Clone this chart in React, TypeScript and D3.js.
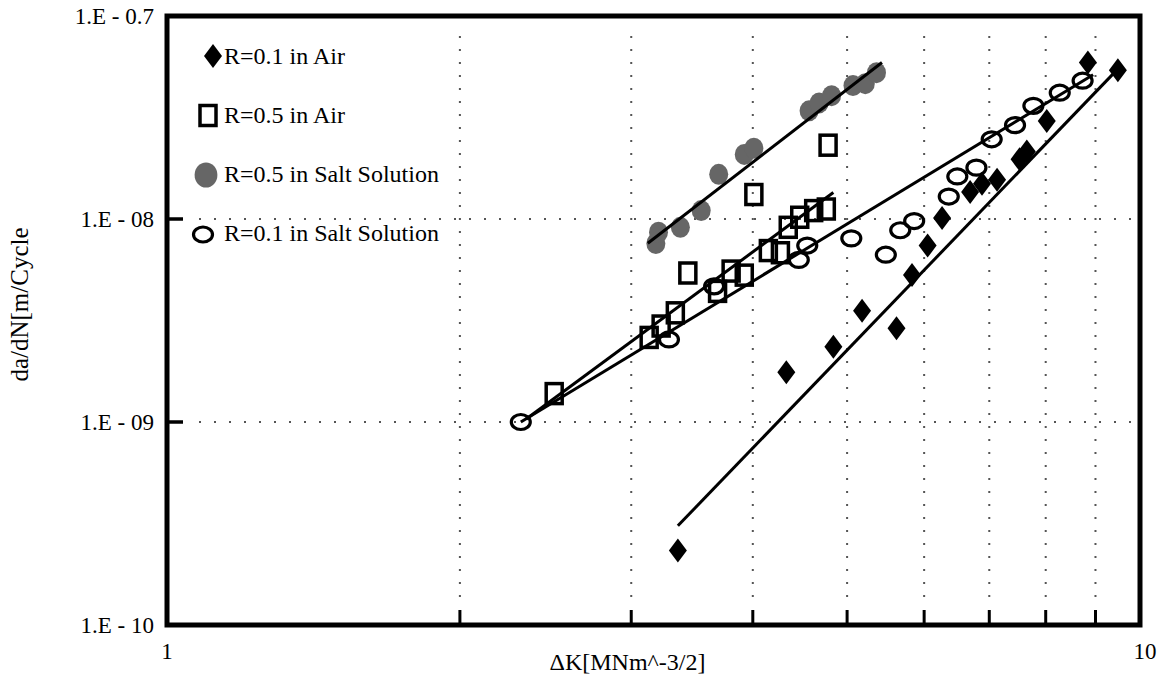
import React from "react";
import * as d3 from "d3";

// ---- data ----
const xTickValues = [2, 3, 4, 5, 6, 7, 8, 9];
const xTickLabelValues = [1, 10];
const xTickLabels = ["1", "10"];
const yTickValues = [1e-10, 1e-9, 1e-8, 1e-7];
const yTickLabels = ["1.E - 10", "1.E - 09", "1.E - 08", "1.E - 0.7"];
const yGridValues = [1e-9, 1e-8];

const seriesNames = [
  "R=0.1 in Air",
  "R=0.5 in Air",
  "R=0.5 in Salt Solution",
  "R=0.1 in Salt Solution",
];

const airR01K = [3.35, 4.33, 4.84, 5.18, 5.62, 5.83, 6.05, 6.26, 6.69, 6.88, 7.13, 7.52, 7.65, 8.02, 8.84, 9.49];
const airR01Rate = [2.33e-10, 1.76e-9, 2.35e-9, 3.53e-9, 2.9e-9, 5.3e-9, 7.4e-9, 1.01e-8, 1.36e-8, 1.49e-8, 1.56e-8, 1.97e-8, 2.15e-8, 3.04e-8, 5.9e-8, 5.4e-8];

const airR05K = [2.5, 3.13, 3.22, 3.33, 3.43, 3.68, 3.8, 3.92, 4.01, 4.15, 4.27, 4.35, 4.47, 4.62, 4.76, 4.78];
const airR05Rate = [1.38e-9, 2.61e-9, 2.97e-9, 3.45e-9, 5.42e-9, 4.4e-9, 5.54e-9, 5.29e-9, 1.32e-8, 6.99e-9, 6.82e-9, 9.1e-9, 1.02e-8, 1.1e-8, 1.12e-8, 2.31e-8];

const saltR05K = [3.18, 3.2, 3.37, 3.54, 3.69, 3.92, 4.01, 4.57, 4.68, 4.82, 5.07, 5.22, 5.36];
const saltR05Rate = [7.57e-9, 8.6e-9, 9.1e-9, 1.1e-8, 1.66e-8, 2.08e-8, 2.23e-8, 3.41e-8, 3.73e-8, 4.05e-8, 4.54e-8, 4.64e-8, 5.26e-8];

const saltR01K = [2.31, 3.28, 3.65, 4.46, 4.55, 5.05, 5.48, 5.67, 5.86, 6.36, 6.49, 6.79, 7.04, 7.44, 7.77, 8.27, 8.73];
const saltR01Rate = [1.0e-9, 2.55e-9, 4.66e-9, 6.29e-9, 7.4e-9, 8.03e-9, 6.67e-9, 8.8e-9, 9.77e-9, 1.29e-8, 1.62e-8, 1.79e-8, 2.47e-8, 2.9e-8, 3.61e-8, 4.19e-8, 4.8e-8];

// trend lines (end points)
const airR01FitK = [3.35, 9.54];
const airR01FitRate = [3.08e-10, 5.63e-8];
const airR05FitK = [2.34, 4.84];
const airR05FitRate = [1.035e-9, 1.35e-8];
const saltR05FitK = [3.12, 5.43];
const saltR05FitRate = [7.6e-9, 5.9e-8];
const saltR01FitK = [2.31, 8.95];
const saltR01FitRate = [1.0e-9, 5.14e-8];

const W = 1164;
const H = 680;
const margin = { left: 167, right: 24, top: 16, bottom: 55 };
const FONT = "'Liberation Serif', 'Times New Roman', serif";
const GRAY = "#666666";

const x = d3.scaleLog().domain([1, 10]).range([margin.left, W - margin.right]);
const y = d3.scaleLog().domain([1e-10, 1e-7]).range([H - margin.bottom, margin.top]);

const zip = (a: number[], b: number[]) => a.map((v, i) => [v, b[i]] as [number, number]);
const line = d3
  .line<[number, number]>()
  .x((d) => x(d[0]))
  .y((d) => y(d[1]));

type Kind = "diamond" | "square" | "gray" | "ring";

function Marker({ kind, cx, cy, s = 1 }: { kind: Kind; cx: number; cy: number; s?: number }) {
  if (kind === "diamond")
    return (
      <path
        d={`M${cx},${cy - 12 * s}L${cx + 9 * s},${cy}L${cx},${cy + 12 * s}L${cx - 9 * s},${cy}Z`}
        fill="#000"
      />
    );
  if (kind === "square")
    return (
      <rect x={cx - 8 * s} y={cy - 10 * s} width={16 * s} height={20 * s} fill="none" stroke="#000" strokeWidth={3.5} />
    );
  if (kind === "gray") return <ellipse cx={cx} cy={cy} rx={9.5 * s} ry={10.5 * s} fill={GRAY} />;
  return <ellipse cx={cx} cy={cy} rx={9.5 * s} ry={7.5 * s} fill="none" stroke="#000" strokeWidth={3.2} />;
}

const series: { kind: Kind; k: number[]; r: number[]; fk: number[]; fr: number[] }[] = [
  { kind: "gray", k: saltR05K, r: saltR05Rate, fk: saltR05FitK, fr: saltR05FitRate },
  { kind: "square", k: airR05K, r: airR05Rate, fk: airR05FitK, fr: airR05FitRate },
  { kind: "ring", k: saltR01K, r: saltR01Rate, fk: saltR01FitK, fr: saltR01FitRate },
  { kind: "diamond", k: airR01K, r: airR01Rate, fk: airR01FitK, fr: airR01FitRate },
];

const legendKinds: Kind[] = ["diamond", "square", "gray", "ring"];

export default function App() {
  const x0 = x.range()[0];
  const x1 = x.range()[1];
  const y0 = y.range()[0];
  const y1 = y.range()[1];
  return (
    <svg
      width={W}
      height={H}
      style={{ position: "absolute", left: 0, top: 0, background: "#fff" }}
      fontFamily={FONT}
    >
      <rect width={W} height={H} fill="#fff" />
      {/* grid */}
      {yGridValues.map((v) => (
        <line key={"gy" + v} x1={x0 + 32} x2={x1 - 4} y1={y(v)} y2={y(v)} stroke="#555" strokeWidth={2} strokeDasharray="2 13" />
      ))}
      {xTickValues.map((v) => (
        <line key={"gx" + v} x1={x(v)} x2={x(v)} y1={y1 + 20} y2={y0 - 28} stroke="#555" strokeWidth={2} strokeDasharray="2 11" />
      ))}
      {/* tick marks */}
      {xTickValues.map((v) => (
        <line key={"tx" + v} x1={x(v)} x2={x(v)} y1={y0} y2={y0 - 15} stroke="#000" strokeWidth={3} />
      ))}
      {yGridValues.map((v) => (
        <line key={"ty" + v} x1={x0} x2={x0 + 16} y1={y(v)} y2={y(v)} stroke="#000" strokeWidth={3.5} />
      ))}
      {/* frame */}
      <rect x={x0} y={y1} width={x1 - x0} height={y0 - y1} fill="none" stroke="#000" strokeWidth={5} />

      {/* markers */}
      {series.map((s) =>
        s.k.map((kv, i) => <Marker key={s.kind + i} kind={s.kind} cx={x(kv)} cy={y(s.r[i])} />)
      )}
      {/* trend lines */}
      {series.map((s) => (
        <path key={"fit" + s.kind} d={line(zip(s.fk, s.fr)) || ""} fill="none" stroke="#000" strokeWidth={3} />
      ))}

      {/* y tick labels */}
      {yTickValues.map((v, i) => (
        <text key={"yl" + v} x={x0 - 13} y={y(v) + 8} textAnchor="end" fontSize={23} fill="#000">
          {yTickLabels[i]}
        </text>
      ))}
      {/* x tick labels */}
      {xTickLabelValues.map((v, i) => (
        <text key={"xl" + v} x={x(v) + (i === 1 ? 5 : 0)} y={y0 + 34} textAnchor="middle" fontSize={23} fill="#000">
          {xTickLabels[i]}
        </text>
      ))}
      {/* axis titles */}
      <text x={(x0 + x1) / 2 - 26} y={y0 + 45} textAnchor="middle" fontSize={24} fill="#000">
        ΔK[MNm^-3/2]
      </text>
      <text transform={`translate(28, ${(y0 + y1) / 2 - 16}) rotate(-90)`} textAnchor="middle" fontSize={25} fill="#000">
        da/dN[m/Cycle
      </text>

      {/* legend */}
      {legendKinds.map((k, i) => (
        <g key={"lg" + k}>
          <Marker kind={k} cx={[213, 208, 206, 203][i]} cy={56 + i * 59.5} s={k === "gray" ? 1.2 : 1} />
          <text x={224} y={64 + i * 59} fontSize={24} fill="#000">
            {seriesNames[i]}
          </text>
        </g>
      ))}
    </svg>
  );
}
